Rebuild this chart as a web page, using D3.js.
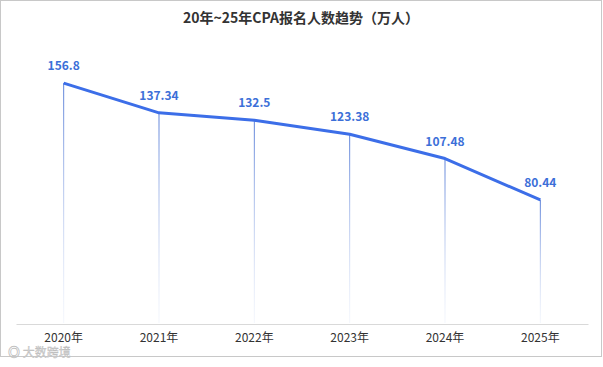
<!DOCTYPE html>
<html>
<head>
<meta charset="utf-8">
<script src="https://cdn.jsdelivr.net/npm/d3@7"></script>
<style>
  body { margin: 0; background: #fff; }
  svg { display: block; font-family: "Noto Sans CJK SC", "Noto Sans", sans-serif; }
</style>
</head>
<body>
<script>
// data
const years = ["2020年", "2021年", "2022年", "2023年", "2024年", "2025年"];
const values = [156.8, 137.34, 132.5, 123.38, 107.48, 80.44];
const labels = ["156.8", "137.34", "132.5", "123.38", "107.48", "80.44"];

const width = 603, height = 367;
const svg = d3.select("body").append("svg")
    .attr("width", width)
    .attr("height", height);

// outer frame
svg.append("rect")
    .attr("x", 0.5).attr("y", 0.5)
    .attr("width", 601).attr("height", 356)
    .attr("fill", "#fff")
    .attr("stroke", "#c8c8c8");

svg.append("text")
    .attr("x", 301).attr("y", 23)
    .attr("text-anchor", "middle")
    .attr("font-size", 14)
    .attr("font-weight", "bold")
    .attr("fill", "#333")
    .text("20年~25年CPA报名人数趋势（万人）");

const x = d3.scaleBand().domain(years).range([16, 588]);
const y = d3.scaleLinear().domain([0, 200]).range([323, 17]);
const cx = d => x(d) + x.bandwidth() / 2;

const defs = svg.append("defs");
const grad = defs.append("linearGradient")
    .attr("id", "drop").attr("x1", 0).attr("x2", 0).attr("y1", 0).attr("y2", 1);
grad.append("stop").attr("offset", "0%").attr("stop-color", "#5b80d8").attr("stop-opacity", 1);
grad.append("stop").attr("offset", "100%").attr("stop-color", "#c9d6f2").attr("stop-opacity", 0.2);

// drop lines
svg.selectAll("rect.drop")
    .data(values)
    .enter().append("rect")
    .attr("class", "drop")
    .attr("x", (d, i) => cx(years[i]) - 0.5)
    .attr("y", d => y(d))
    .attr("width", 1)
    .attr("height", d => y(0) - y(d))
    .attr("fill", "url(#drop)");

// x axis
const xAxis = svg.append("g")
    .attr("transform", `translate(0,${y(0) + 1})`)
    .call(d3.axisBottom(x).tickSize(0).tickPadding(9));
xAxis.select(".domain").attr("stroke", "#d9d9d9");
xAxis.selectAll("text")
    .attr("font-size", 12)
    .attr("fill", "#333")
    .attr("font-family", "\"Noto Sans CJK SC\", sans-serif");

// line
const line = d3.line()
    .x((d, i) => cx(years[i]))
    .y(d => y(d));
svg.append("path")
    .datum(values)
    .attr("d", line)
    .attr("fill", "none")
    .attr("stroke", "#3c6ee8")
    .attr("stroke-width", 3)
    .attr("stroke-linejoin", "round");

// value labels
svg.selectAll("text.val")
    .data(values)
    .enter().append("text")
    .attr("class", "val")
    .attr("x", (d, i) => cx(years[i]))
    .attr("y", d => y(d) - 13)
    .attr("text-anchor", "middle")
    .attr("font-size", 12)
    .attr("font-weight", "bold")
    .attr("fill", "#3c6fd8")
    .text((d, i) => labels[i]);

// watermark
svg.append("text")
    .attr("x", 8).attr("y", 357)
    .attr("font-size", 12)
    .attr("fill", "#d0d0d0")
    .attr("stroke", "#bbb")
    .attr("stroke-width", 0.3)
    .text("◎ 大数跨境");
</script>
</body>
</html>
